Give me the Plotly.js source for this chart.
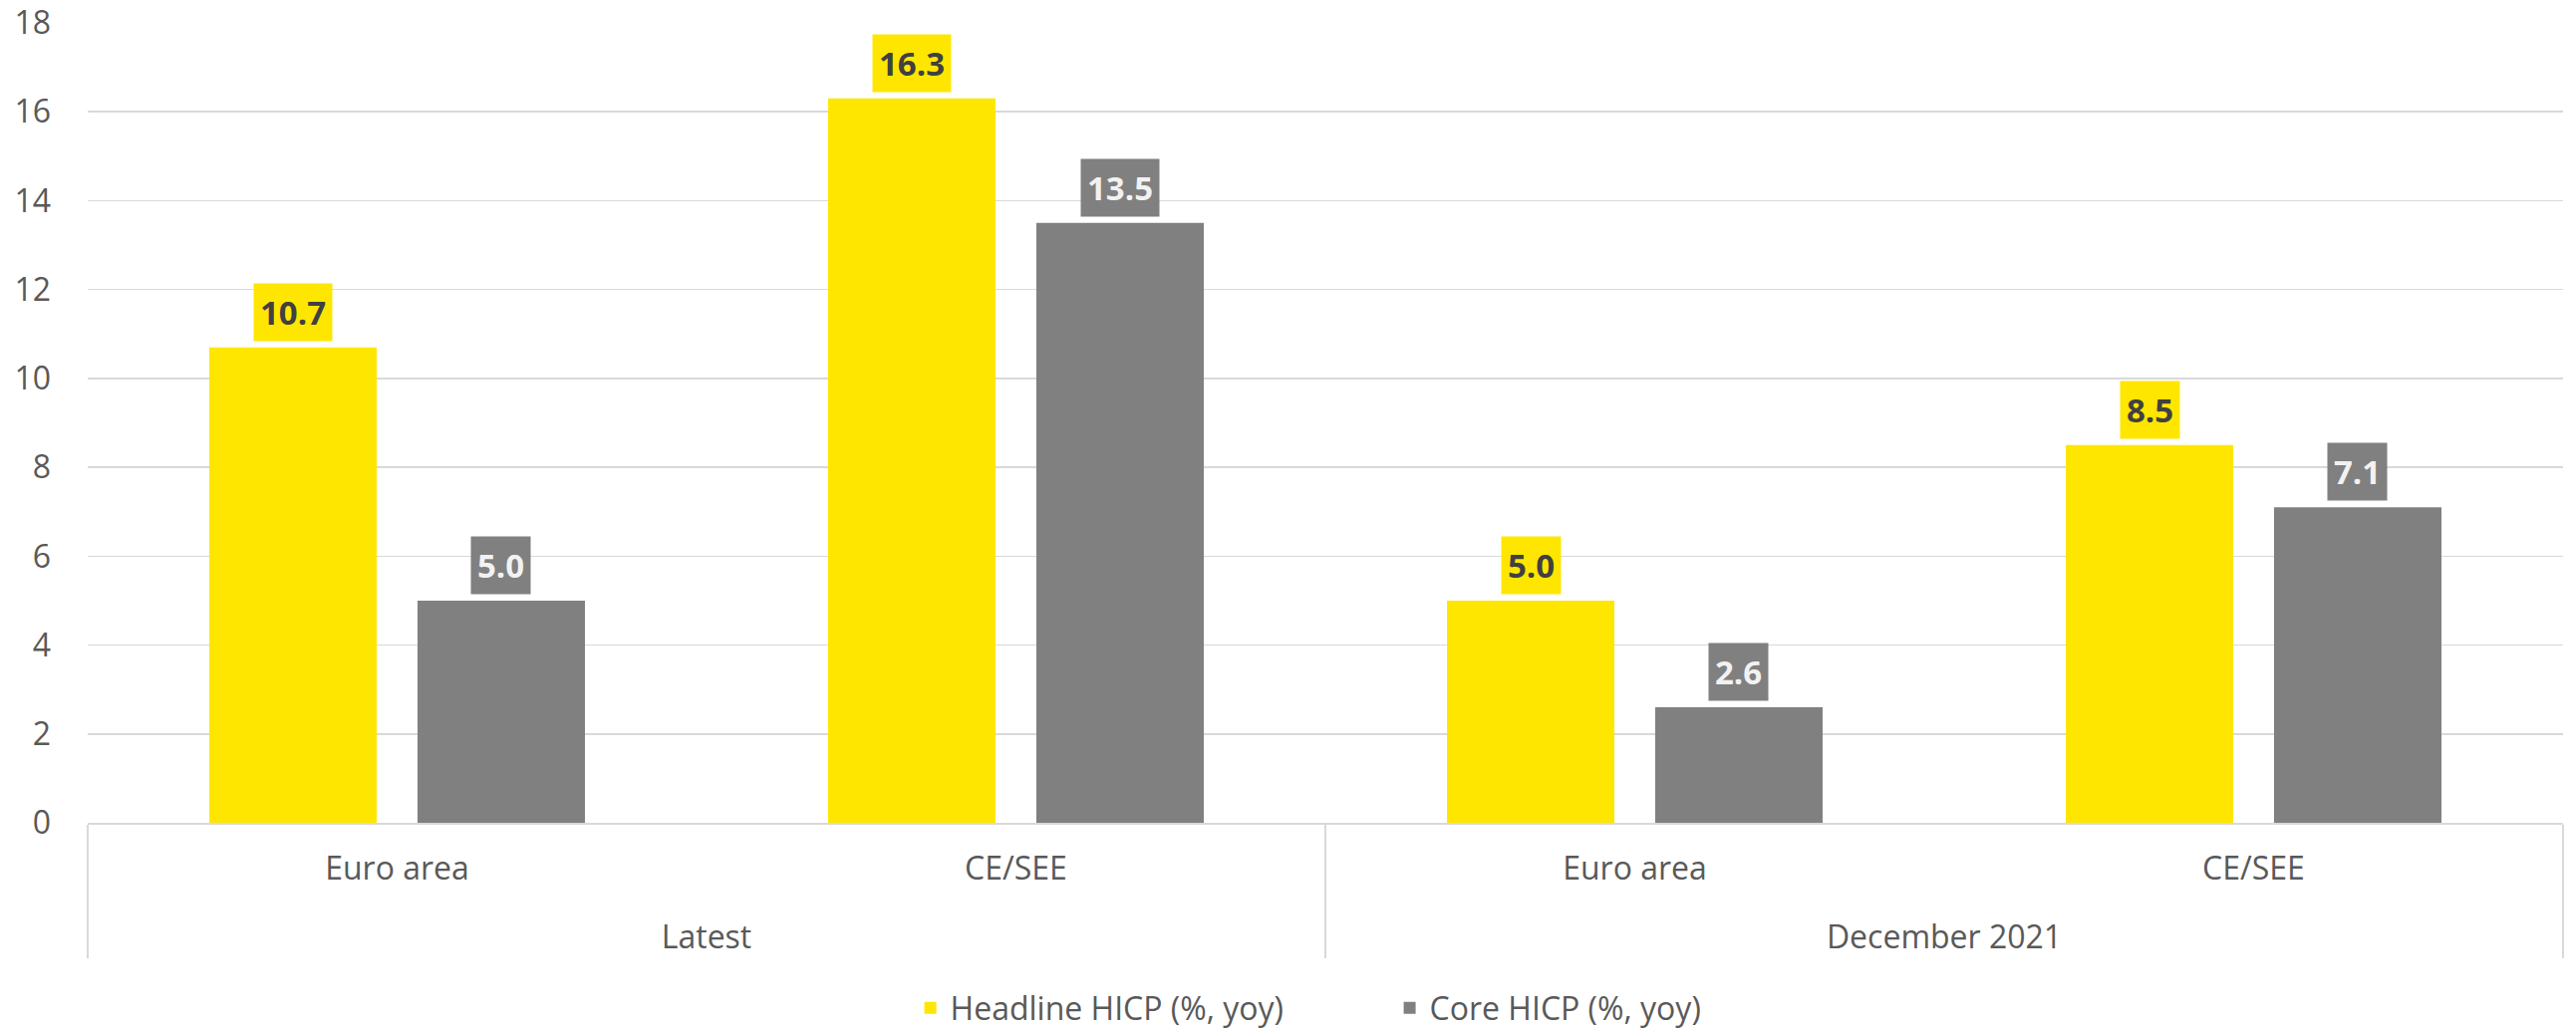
<!DOCTYPE html>
<html>
<head>
<meta charset="utf-8">
<script src="https://cdn.plot.ly/plotly-3.0.1.min.js"></script>
<style>
html,body{margin:0;padding:0;background:#fff;}
#chart{width:2585px;height:1032px;}
</style>
</head>
<body>
<div id="chart"></div>
<script>
// ---- data ----
var periods = ["Latest", "Latest", "December 2021", "December 2021"];
var regions = ["Euro area", "CE/SEE", "Euro area", "CE/SEE"];
var headline = [10.7, 16.3, 5.0, 8.5];
var core = [5.0, 13.5, 2.6, 7.1];
var seriesNames = ["Headline HICP (%, yoy)", "Core HICP (%, yoy)"];
var yTicks = [0, 2, 4, 6, 8, 10, 12, 14, 16, 18];

var YELLOW = "#FFE600", GREY = "#808080";
var FONT = "Open Sans, Noto Sans, sans-serif";
var bargap = 0.327, bargroupgap = 0.196;

var traces = [
  {type: "bar", name: seriesNames[0], x: [periods, regions], y: headline,
   marker: {color: YELLOW}, hoverinfo: "skip"},
  {type: "bar", name: seriesNames[1], x: [periods, regions], y: core,
   marker: {color: GREY}, hoverinfo: "skip"}
];

// label annotations centered on each bar (offset = half a slot in category units)
var off = (1 - bargap) / 4;
var annotations = [];
function addLabels(vals, sign, bg, fg) {
  vals.forEach(function (v, i) {
    annotations.push({
      x: i + sign * off, y: v, xref: "x", yref: "y",
      text: "<b>" + v.toFixed(1) + "</b>", showarrow: false,
      yanchor: "bottom", yshift: 6,
      bgcolor: bg, borderpad: 6,
      font: {family: FONT, size: 33, color: fg}
    });
  });
}
addLabels(headline, -1, YELLOW, "#404040");
addLabels(core, 1, GREY, "#F2F2F2");

// add a blank line under the first-level labels to space the two label rows
var alias = {};
regions.forEach(function (r) { alias[r] = r + "<br>&nbsp;"; });

var layout = {
  width: 2585, height: 1032,
  margin: {l: 88, r: 13, t: 23, b: 206},
  paper_bgcolor: "#fff", plot_bgcolor: "#fff",
  barmode: "group", bargap: bargap, bargroupgap: bargroupgap,
  font: {family: FONT, size: 32, color: "#595959"},
  showlegend: true,
  legend: {orientation: "h", x: 0.526, xanchor: "center", yref: "container", y: 0.0194, yanchor: "middle",
           entrywidth: 436, entrywidthmode: "pixels",
           font: {family: FONT, size: 32, color: "#595959"}},
  xaxis: {type: "multicategory", showline: true, linecolor: "#D9D9D9", linewidth: 1.5,
          showdividers: true, dividercolor: "#D9D9D9", dividerwidth: 1.5,
          labelalias: alias, ticklabelstandoff: 17,
          tickfont: {family: FONT, size: 32, color: "#595959"}, ticks: ""},
  yaxis: {range: [0, 18], tickvals: yTicks, showgrid: true, gridcolor: "#D9D9D9", gridwidth: 1.5,
          zeroline: false, ticks: "", ticklabelstandoff: 36,
          tickfont: {family: FONT, size: 32, color: "#595959"}},
  annotations: annotations
};

Plotly.newPlot("chart", traces, layout, {displayModeBar: false, staticPlot: true});
</script>
</body>
</html>
